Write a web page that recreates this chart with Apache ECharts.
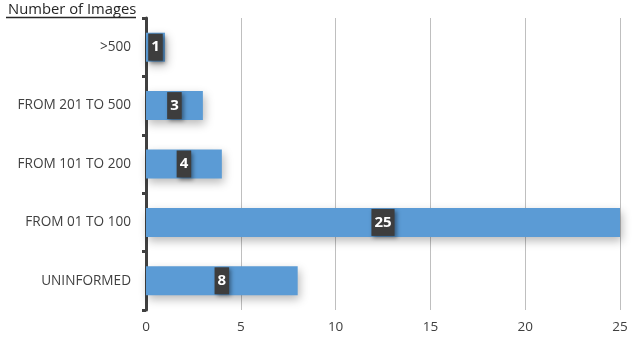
<!DOCTYPE html>
<html>
<head>
<meta charset="utf-8">
<script src="https://cdn.jsdelivr.net/npm/echarts@6/dist/echarts.min.js"></script>
<style>html,body{margin:0;padding:0;background:#fff;}#c{width:633px;height:342px;}</style>
</head>
<body>
<div id="c"></div>
<script>
var categories = ['UNINFORMED', 'FROM 01 TO 100', 'FROM 101 TO 200', 'FROM 201 TO 500', '>500'];
var values = [8, 25, 4, 3, 1];
var xTicks = [0, 5, 10, 15, 20, 25];
var titleText = 'Number of Images';

var chart = echarts.init(document.getElementById('c'));
var font = '"Open Sans", "Noto Sans", sans-serif';
chart.setOption({
  animation: false,
  backgroundColor: '#ffffff',
  title: {
    text: titleText,
    left: 3, top: -3,
    textStyle: { fontFamily: font, fontSize: 14.8, fontWeight: 'normal', color: '#262626' }
  },
  graphic: [{
    type: 'line',
    shape: { x1: 6, y1: 17.5, x2: 136, y2: 17.5 },
    style: { stroke: '#262626', lineWidth: 1.3 }
  }],
  grid: { left: 146, right: 13, top: 18, bottom: 32, containLabel: false },
  xAxis: {
    type: 'value',
    min: xTicks[0], max: xTicks[xTicks.length - 1], interval: 5,
    axisLine: { show: false },
    axisTick: { show: false },
    axisLabel: { fontFamily: font, fontSize: 13.5, color: '#404040', margin: 10 },
    splitLine: { show: true, lineStyle: { color: '#bfbfbf', width: 1 } }
  },
  yAxis: {
    type: 'category',
    data: categories,
    axisLine: { show: true, lineStyle: { color: '#404040', width: 3 } },
    axisTick: { show: true, length: 4, lineStyle: { color: '#404040', width: 3 } },
    axisLabel: { fontFamily: font, fontSize: 13.6, color: '#404040', margin: 15 },
    splitLine: { show: false }
  },
  series: [{
    type: 'bar',
    data: values,
    barWidth: 29,
    itemStyle: {
      color: '#5b9bd5',
      shadowColor: 'rgba(0,0,0,0.28)',
      shadowBlur: 10,
      shadowOffsetX: 2,
      shadowOffsetY: 4
    },
    label: {
      show: true,
      position: 'inside',
      color: '#ffffff',
      fontFamily: font,
      fontSize: 15,
      fontWeight: 'bold',
      backgroundColor: '#3d3d3d',
      padding: [5, 3, 4, 3],
      lineHeight: 18,
      shadowColor: 'rgba(0,0,0,0.4)',
      shadowBlur: 4,
      shadowOffsetX: 2,
      shadowOffsetY: 2
    }
  }]
});
</script>
</body>
</html>
